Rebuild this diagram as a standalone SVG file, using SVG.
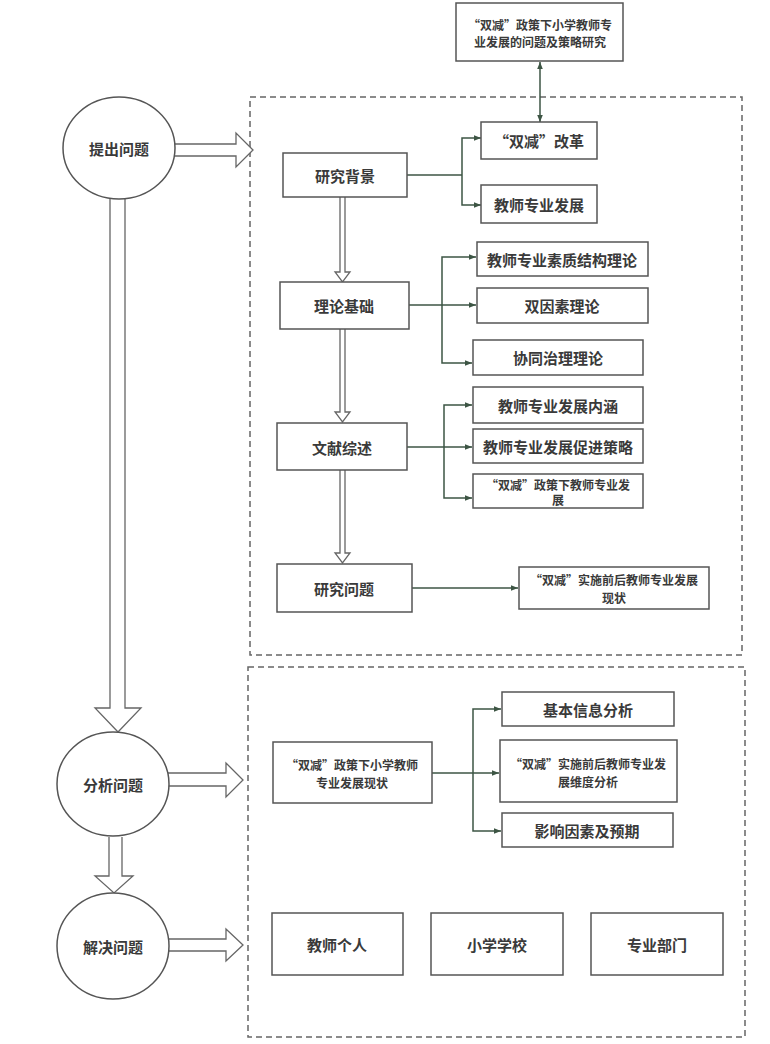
<svg xmlns="http://www.w3.org/2000/svg" width="770" height="1044" viewBox="0 0 770 1044">
<style>
.box{fill:#fff;stroke:#555;stroke-width:1.5}
.circ{fill:#fff;stroke:#555;stroke-width:1.5}
.dash{fill:none;stroke:#666;stroke-width:1.5;stroke-dasharray:6 4}
.hol{fill:#fff;stroke:#666;stroke-width:1.3;stroke-linejoin:miter}
.con{fill:none;stroke:#3d5544;stroke-width:1.5}
.t{font-family:"Noto Sans CJK SC","Noto Sans",sans-serif;font-weight:bold;fill:#3a3a3a;text-anchor:middle;dominant-baseline:central}
.l{font-size:15px}
.s{font-size:12px}
</style>
<defs>
<marker id="ah" viewBox="0 0 10 10" refX="10" refY="5" markerWidth="7" markerHeight="7" orient="auto-start-reverse" markerUnits="userSpaceOnUse">
<path d="M0,1 L10,5 L0,9 Z" fill="#3d5544"/>
</marker>
</defs>
<rect width="770" height="1044" fill="#fff"/>

<g id="sections">
<rect class="dash" x="250" y="97" width="492" height="558"/>
<rect class="dash" x="248" y="667" width="497" height="370"/>
</g>

<g id="connectors">
<!-- big hollow arrows -->
<path class="hol" d="M174,144 L236,144 L236,133 L253,150 L236,167 L236,156 L174,156"/>
<path class="hol" d="M110,199 L110,708 L95,708 L118,732 L141,708 L125,708 L125,199"/>
<path class="hol" d="M168,773 L226,773 L226,763 L243,780 L226,797 L226,786 L168,786"/>
<path class="hol" d="M109,837 L109,876 L95,876 L114,893 L133,876 L122,876 L122,837"/>
<path class="hol" d="M168,939 L226,939 L226,929 L243,945 L226,961 L226,951 L168,951"/>
<!-- thin hollow arrows -->
<path class="hol" d="M340,197 L340,272 L335,272 L342.5,282 L350,272 L345,272 L345,197"/>
<path class="hol" d="M340,329 L340,412 L335,412 L342.5,422 L350,412 L345,412 L345,329"/>
<path class="hol" d="M340,470 L340,553 L335,553 L342.5,563 L350,553 L345,553 L345,470"/>
<!-- top double arrow -->
<line class="con" x1="540" y1="62" x2="540" y2="122" marker-start="url(#ah)" marker-end="url(#ah)"/>
<!-- 研究背景 -->
<path class="con" d="M407,175 L462,175"/>
<path class="con" d="M481,138 L462,138 L462,205 L481,205" marker-start="url(#ah)" marker-end="url(#ah)"/>
<!-- 理论基础 -->
<path class="con" d="M409,305 L476,305" marker-end="url(#ah)"/>
<path class="con" d="M476,257 L442,257 L442,363 L472,363" marker-start="url(#ah)" marker-end="url(#ah)"/>
<!-- 文献综述 -->
<path class="con" d="M407,447 L472,447" marker-end="url(#ah)"/>
<path class="con" d="M472,405 L444,405 L444,498 L472,498" marker-start="url(#ah)" marker-end="url(#ah)"/>
<!-- 研究问题 -->
<path class="con" d="M412,588 L518,588" marker-end="url(#ah)"/>
<!-- section 2 -->
<path class="con" d="M432,773 L499,773" marker-end="url(#ah)"/>
<path class="con" d="M501,709 L473,709 L473,831 L501,831" marker-start="url(#ah)" marker-end="url(#ah)"/>
</g>

<g id="top">
<rect class="box" x="456" y="3" width="167" height="58"/>
<text class="t s" x="540" y="24">“双减”政策下小学教师专</text>
<text class="t s" x="540" y="41">业发展的问题及策略研究</text>
</g>

<g id="c1"><ellipse class="circ" cx="119" cy="148" rx="56" ry="51"/><text class="t l" x="119" y="148">提出问题</text></g>
<g id="c2"><ellipse class="circ" cx="113" cy="784" rx="56" ry="52"/><text class="t l" x="113" y="784">分析问题</text></g>
<g id="c3"><ellipse class="circ" cx="113" cy="946" rx="56" ry="53"/><text class="t l" x="113" y="946">解决问题</text></g>

<g id="n1"><rect class="box" x="283" y="153" width="124" height="44"/><text class="t l" x="345" y="175">研究背景</text></g>
<g id="n2"><rect class="box" x="481" y="122" width="116" height="37"/><text class="t l" x="539" y="140">“双减”改革</text></g>
<g id="n3"><rect class="box" x="481" y="185" width="116" height="38"/><text class="t l" x="539" y="204">教师专业发展</text></g>

<g id="n4"><rect class="box" x="280" y="282" width="129" height="47"/><text class="t l" x="344" y="305">理论基础</text></g>
<g id="n5"><rect class="box" x="477" y="242" width="171" height="34"/><text class="t l" x="562" y="259">教师专业素质结构理论</text></g>
<g id="n6"><rect class="box" x="477" y="288" width="171" height="35"/><text class="t l" x="562" y="305">双因素理论</text></g>
<g id="n7"><rect class="box" x="473" y="340" width="170" height="35"/><text class="t l" x="558" y="357">协同治理理论</text></g>

<g id="n8"><rect class="box" x="277" y="423" width="130" height="47"/><text class="t l" x="342" y="447">文献综述</text></g>
<g id="n9"><rect class="box" x="473" y="387" width="170" height="36"/><text class="t l" x="558" y="405">教师专业发展内涵</text></g>
<g id="n10"><rect class="box" x="473" y="429" width="170" height="34"/><text class="t l" x="558" y="446">教师专业发展促进策略</text></g>
<g id="n11"><rect class="box" x="473" y="474" width="170" height="34"/><text class="t s" x="558" y="484">“双减”政策下教师专业发</text><text class="t s" x="558" y="499">展</text></g>

<g id="n12"><rect class="box" x="277" y="564" width="135" height="48"/><text class="t l" x="344" y="588">研究问题</text></g>
<g id="n13"><rect class="box" x="519" y="567" width="190" height="42"/><text class="t s" x="614" y="579">“双减”实施前后教师专业发展</text><text class="t s" x="614" y="597">现状</text></g>

<g id="n14"><rect class="box" x="273" y="742" width="159" height="61"/><text class="t s" x="352" y="764">“双减”政策下小学教师</text><text class="t s" x="352" y="782">专业发展现状</text></g>
<g id="n15"><rect class="box" x="502" y="692" width="172" height="34"/><text class="t l" x="588" y="709">基本信息分析</text></g>
<g id="n16"><rect class="box" x="500" y="740" width="177" height="62"/><text class="t s" x="588" y="763">“双减”实施前后教师专业发</text><text class="t s" x="588" y="781">展维度分析</text></g>
<g id="n17"><rect class="box" x="502" y="813" width="171" height="34"/><text class="t l" x="587" y="830">影响因素及预期</text></g>

<g id="n18"><rect class="box" x="272" y="913" width="131" height="62"/><text class="t l" x="337" y="944">教师个人</text></g>
<g id="n19"><rect class="box" x="431" y="913" width="132" height="62"/><text class="t l" x="497" y="944">小学学校</text></g>
<g id="n20"><rect class="box" x="591" y="913" width="132" height="62"/><text class="t l" x="657" y="944">专业部门</text></g>
</svg>
